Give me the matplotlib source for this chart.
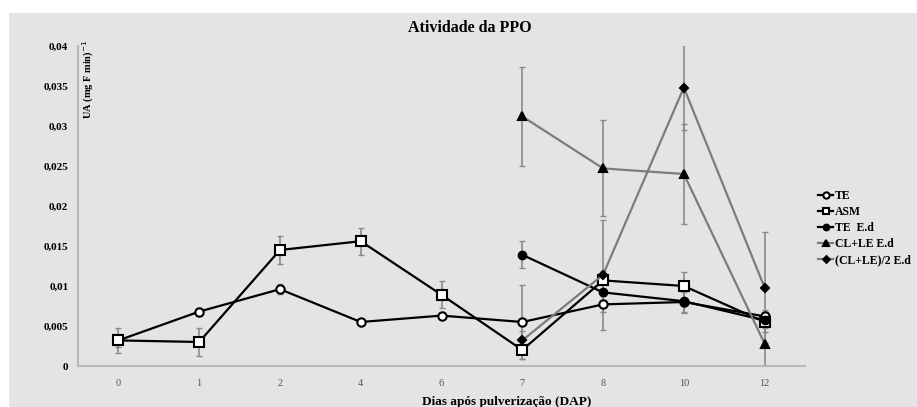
# Atividade da PPO - gráfico de linhas com barras de erro
import numpy as np
import matplotlib.pyplot as plt
from matplotlib.patches import Rectangle

nan = np.nan
dias = ["0", "1", "2", "4", "6", "7", "8", "10", "12"]

te = [0.0032, 0.0068, 0.0096, 0.0055, 0.0063, 0.0055, 0.0077, 0.0080, 0.0062]
te_err = [0.0008, 0.0005, 0.0006, 0.0004, 0.0004, 0.0046, 0.0010, 0.0012, 0.0008]

asm = [0.0032, 0.0030, 0.0145, 0.0156, 0.0089, 0.0020, 0.0107, 0.0100, 0.0055]
asm_err = [0.0016, 0.0017, 0.0017, 0.0017, 0.0017, 0.0011, 0.0012, 0.0017, 0.0012]

te_ed = [nan, nan, nan, nan, nan, 0.0139, 0.0092, 0.0081, 0.0057]
te_ed_err = [nan, nan, nan, nan, nan, 0.0017, 0.0010, 0.0015, 0.0010]

clle_ed = [nan, nan, nan, nan, nan, 0.0312, 0.0247, 0.0240, 0.0028]
clle_ed_err = [nan, nan, nan, nan, nan, 0.0062, 0.0060, 0.0063, 0.0028]

clle2_ed = [nan, nan, nan, nan, nan, 0.0032, 0.0114, 0.0348, 0.0098]
clle2_ed_err = [nan, nan, nan, nan, nan, 0.0012, 0.0069, 0.0053, 0.0069]

plt.rcParams["font.family"] = ["Liberation Serif", "DejaVu Serif"]

fig = plt.figure(figsize=(9.17, 4.07), dpi=100)
fig.patch.set_facecolor("white")
fundo = Rectangle((9 / 917, 0), 1, 1 - 13 / 407, transform=fig.transFigure,
                  facecolor="#e4e4e4", edgecolor="none", zorder=-10)
fig.patches.append(fundo)

ax = fig.add_axes([78 / 917, 1 - 366 / 407, (805 - 78) / 917, (366 - 46) / 407])
ax.set_facecolor("none")

x = np.arange(len(dias))

# nome, valores, erro, marcador, preenchimento, cor da linha, tamanho
series = [
    ("TE", te, te_err, "o", "white", "black", 6),
    ("ASM", asm, asm_err, "s", "white", "black", 6.5),
    ("TE  E.d", te_ed, te_ed_err, "o", "black", "black", 5.5),
    ("CL+LE E.d", clle_ed, clle_ed_err, "^", "black", "#7c7c7c", 6),
    ("(CL+LE)/2 E.d", clle2_ed, clle2_ed_err, "D", "black", "#7c7c7c", 4.5),
]

handles = []
for nome, y, err, mk, mfc, cor, ms in series:
    ax.errorbar(x, y, yerr=err, fmt="none", ecolor="#8a8a8a", elinewidth=1.2,
                capsize=2.5, capthick=1, zorder=2)
    h, = ax.plot(x, y, color=cor, lw=1.6, marker=mk, markersize=ms,
                 markerfacecolor=mfc, markeredgecolor="black", markeredgewidth=1.5,
                 label=nome, zorder=3)
    handles.append(h)

ax.set_xlim(-0.5, len(dias) - 0.5)
ax.set_ylim(0, 0.04)
ax.set_xticks(x)
ax.set_xticklabels(dias, fontsize=7.5, color="#555555")
ax.set_yticks(np.arange(0, 0.0401, 0.005))
ax.set_yticklabels(["0", "0,005", "0,01", "0,015", "0,02", "0,025", "0,03", "0,035", "0,04"],
                   fontsize=8, fontweight="bold")
ax.tick_params(axis="x", length=0, pad=9)
ax.tick_params(axis="y", length=0, pad=7)

for lado in ["top", "right"]:
    ax.spines[lado].set_visible(False)
ax.spines["left"].set_color("#b8b8b8")
ax.spines["left"].set_linewidth(1.5)
ax.spines["bottom"].set_color("#b8b8b8")
ax.spines["bottom"].set_linewidth(1.5)

fig.text(470 / 917, 1 - 28 / 407, "Atividade da PPO", ha="center", va="center",
         fontsize=11.5, fontweight="bold")
fig.text(88 / 917, 1 - 79 / 407, "UA (mg F min)$^{-1}$", rotation=90, ha="center",
         va="center", fontsize=7.5, fontweight="bold")
fig.text(507 / 917, 1 - 402 / 407, "Dias após pulverização (DAP)", ha="center",
         va="center", fontsize=9.5, fontweight="bold")

fig.legend(handles=handles, loc="upper left", bbox_to_anchor=(812 / 917, 1 - 184 / 407),
           frameon=False, prop={"weight": "bold", "size": 8.5},
           handlelength=1.3, handletextpad=0.15, labelspacing=0.35, borderpad=0,
           markerscale=0.75)

fig.savefig("out.png", dpi=100, facecolor="white")
